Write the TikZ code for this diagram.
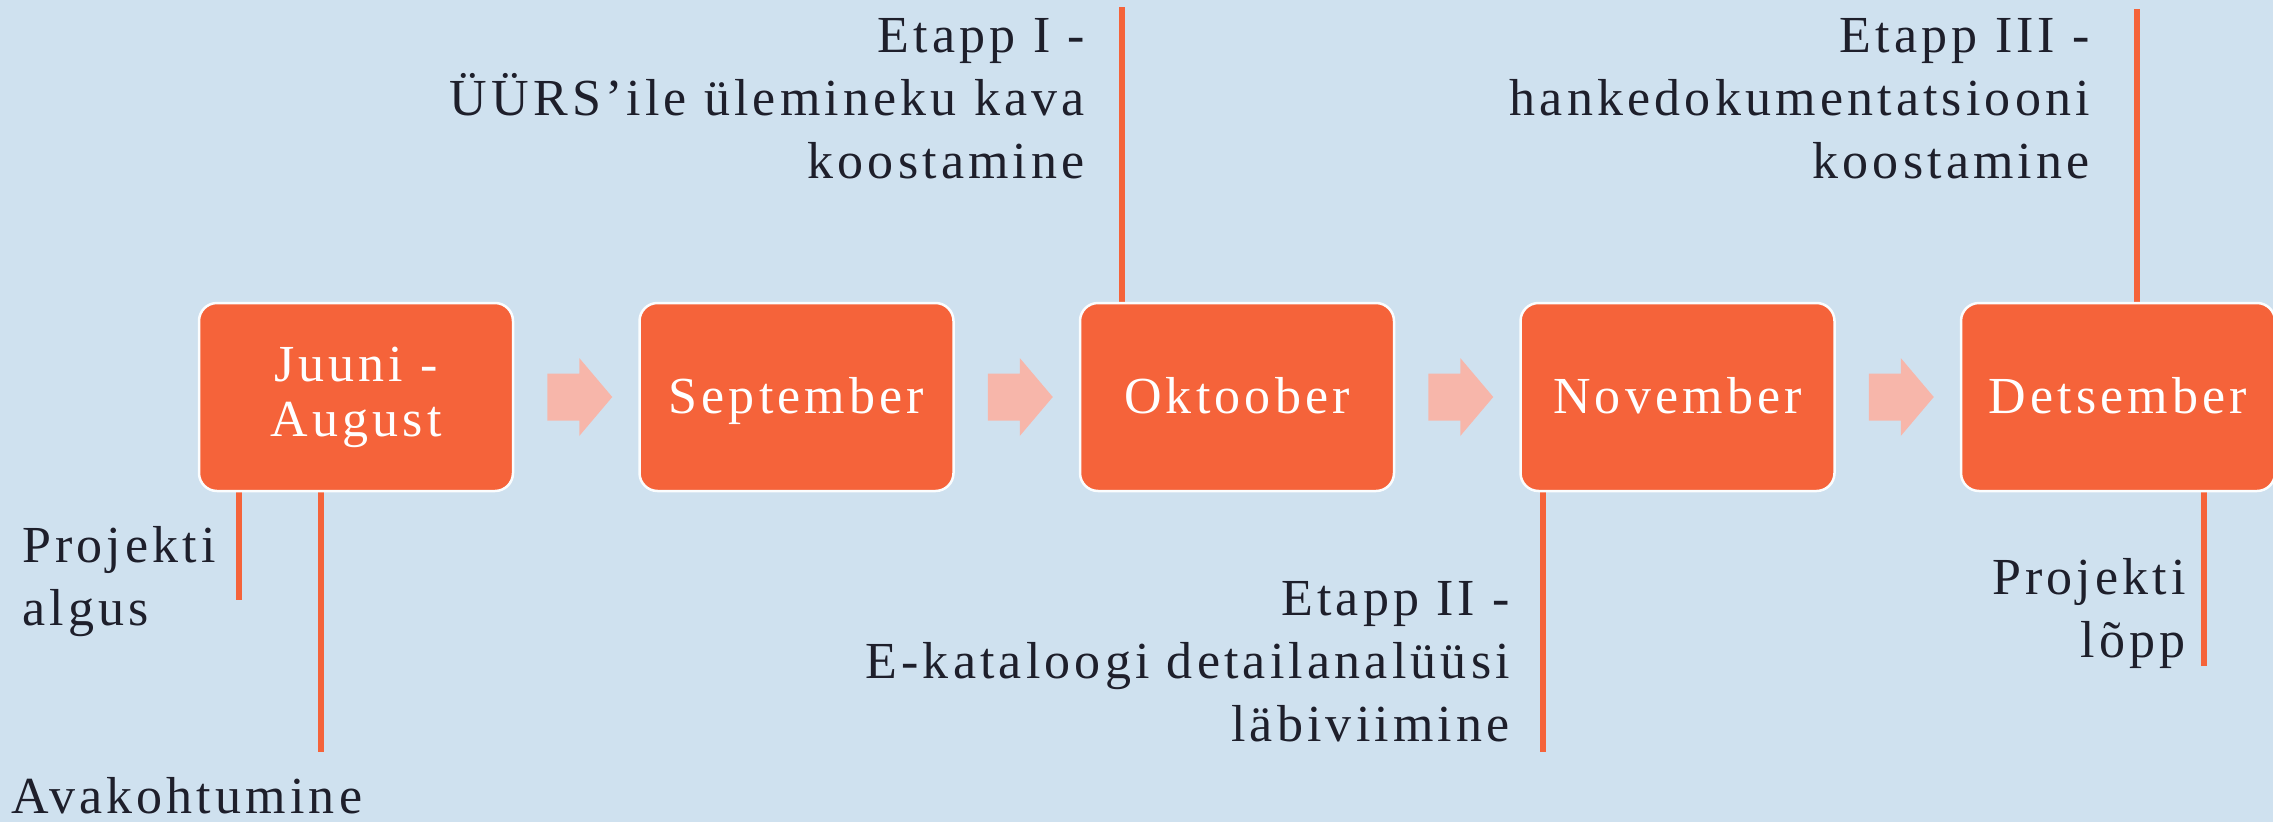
\documentclass[tikz,border=0pt]{standalone}
\usepackage{fontspec}
\setmainfont{Liberation Serif}[LetterSpace=8]
\usetikzlibrary{backgrounds}
\definecolor{bg}{HTML}{CFE1EF}
\definecolor{boxc}{HTML}{F5633A}
\definecolor{arrc}{HTML}{F7B6AA}
\definecolor{txt}{HTML}{1E1F2B}
\newcommand\stackR[1]{\vtop{\halign{\hfil##\cr#1\crcr}}}
\newcommand\stackL[1]{\vtop{\halign{##\hfil\cr#1\crcr}}}
\newcommand\stackC[1]{\vtop{\halign{\hfil##\hfil\cr#1\crcr}}}
\tikzset{
  monthbox/.style={rectangle, rounded corners=18, minimum width=314, minimum height=188,
    fill=boxc, draw=white!92!bg, line width=2.5, text=white, inner sep=0,
    font=\fontsize{52}{55}\selectfont},
  oneline/.style={text height=36, text depth=4},
  marker/.style={draw=boxc, line width=6},
  lbl/.style={inner sep=0, text=txt, font=\fontsize{52}{63}\selectfont},
  flow/.style={fill=arrc}
}
\begin{document}
\begin{tikzpicture}[x=1pt, y=-1pt]
\useasboundingbox (0,0) rectangle (2273,822);

% month boxes
\node[monthbox] (b1) at (356,397) {\stackC{Juuni -\cr August}};
\node[monthbox, oneline] (b2) at (796.5,397) {September};
\node[monthbox, oneline] (b3) at (1237,397) {Oktoober};
\node[monthbox, oneline] (b4) at (1677.5,397) {November};
\node[monthbox, oneline] (b5) at (2118,397) {Detsember};

% free ends of marker lines
\coordinate (pa) at (239,600);
\coordinate (ak) at (321,752);
\coordinate (e1) at (1122,7);
\coordinate (e2) at (1543,752);
\coordinate (e3) at (2137,9);
\coordinate (pl) at (2204,666);

\begin{pgfonlayer}{background}
\fill[bg] (0,0) rectangle (2273,822);
\draw[marker] (b1.south -| pa) -- (pa);
\draw[marker] (b1.south -| ak) -- (ak);
\draw[marker] (b3.north -| e1) -- (e1);
\draw[marker] (b4.south -| e2) -- (e2);
\draw[marker] (b5.north -| e3) -- (e3);
\draw[marker] (b5.south -| pl) -- (pl);
\end{pgfonlayer}

% block arrows between boxes
\foreach \i in {1,2,3,4}{
  \fill[flow] (b\i.east) ++(33,-23.5) -- ++(32,0) -- ++(0,-15.5) -- ++(33,39)
     -- ++(-33,39) -- ++(0,-15.5) -- ++(-32,0) -- cycle;
}

% labels
\node[lbl, anchor=base west] (tpa) at (22,562) {\stackL{Projekti\cr algus}};
\node[lbl, anchor=base west] (tak) at (11,813) {Avakohtumine};
\node[lbl, anchor=base east] (te1) at (1085,52) {\stackR{Etapp I -\cr ÜÜRS’ile ülemineku kava\cr koostamine}};
\node[lbl, anchor=base east] (te2) at (1510,615) {\stackR{Etapp II -\cr E-kataloogi detailanalüüsi\cr läbiviimine}};
\node[lbl, anchor=base east] (te3) at (2090,52) {\stackR{Etapp III -\cr hankedokumentatsiooni\cr koostamine}};
\node[lbl, anchor=base east] (tpl) at (2186,594) {\stackR{Projekti\cr lõpp}};
\end{tikzpicture}
\end{document}
